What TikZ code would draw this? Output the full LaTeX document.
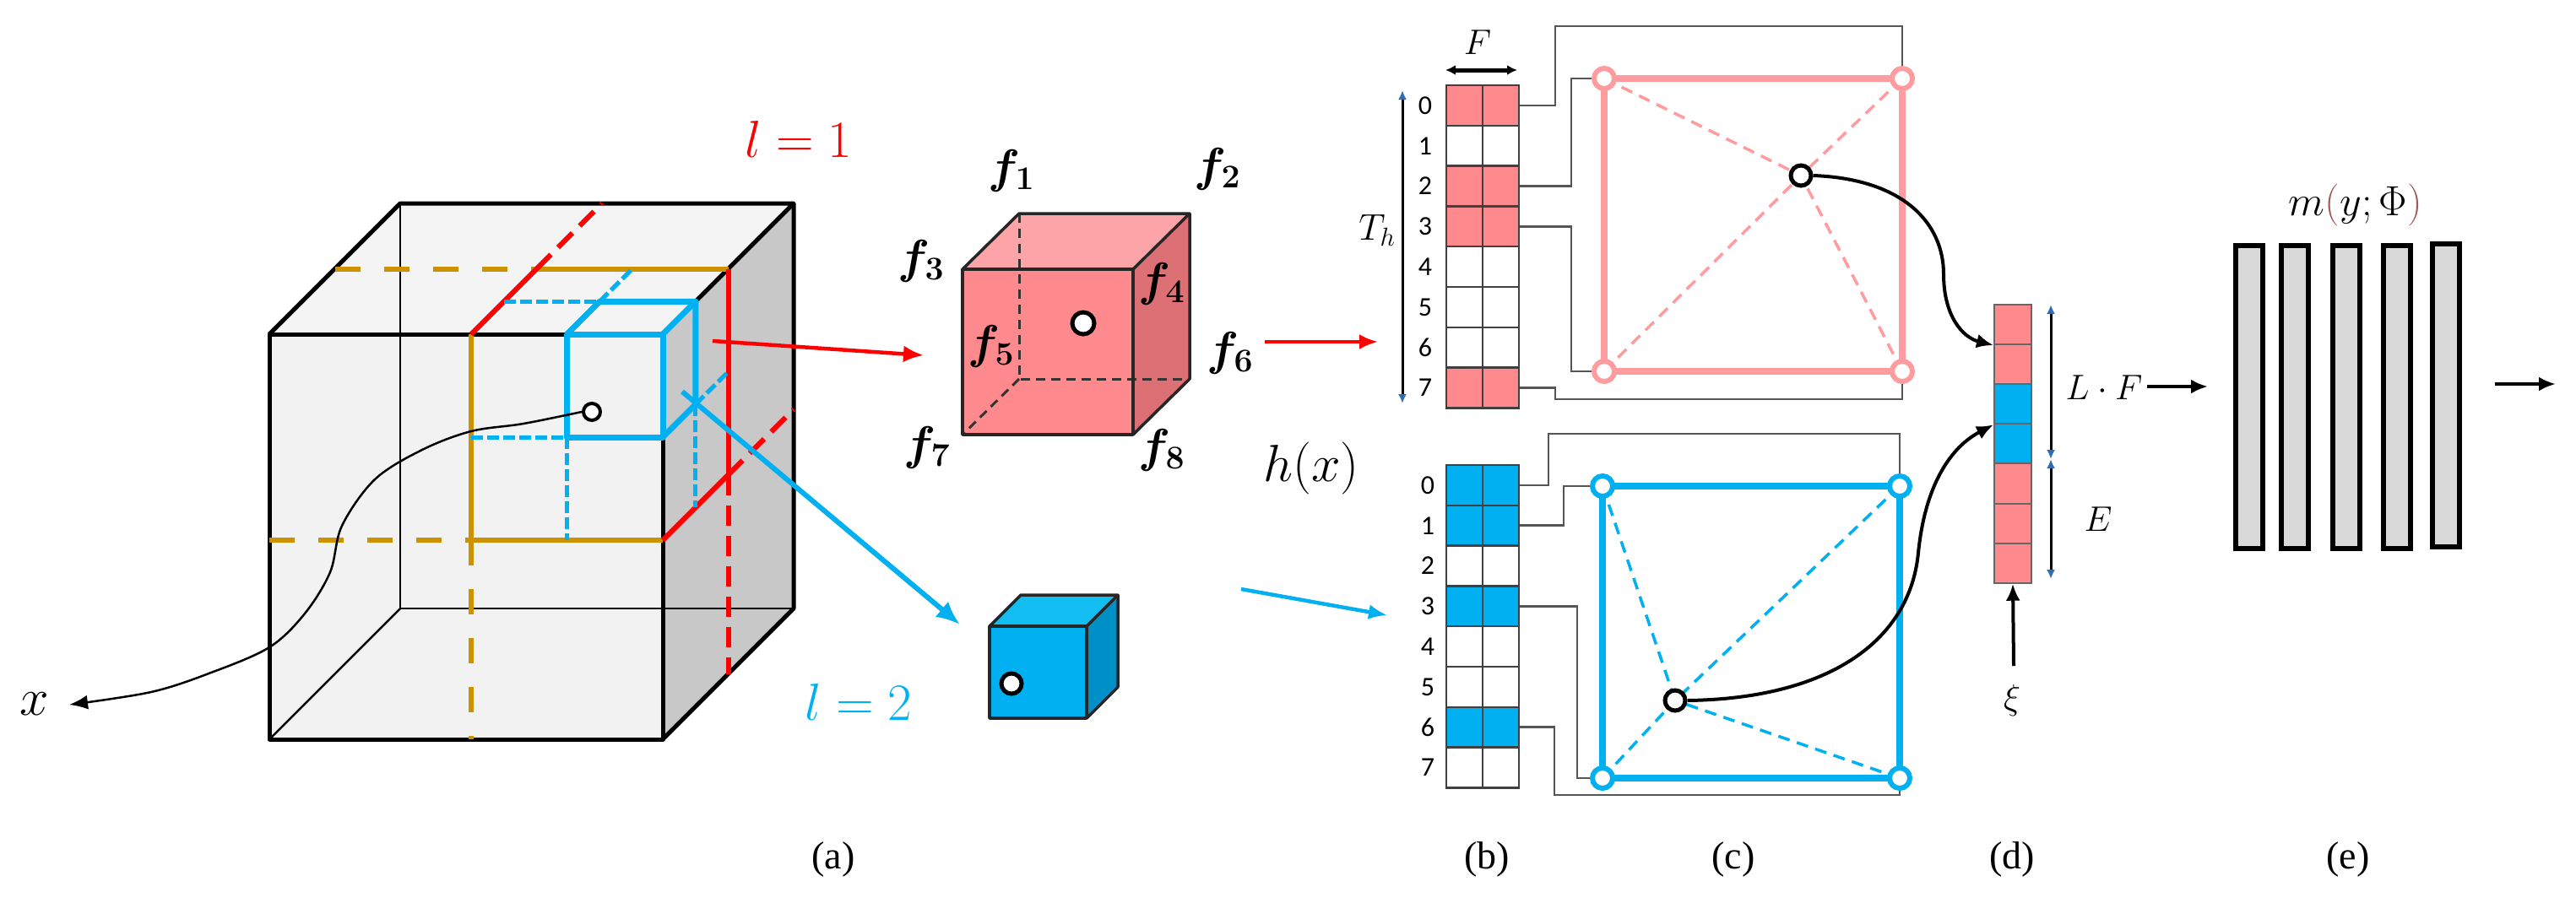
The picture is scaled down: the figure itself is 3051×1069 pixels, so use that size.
\RequirePackage{fix-cm}
\documentclass[tikz,border=0pt]{standalone}
\usepackage{amsmath,bm}
\usepackage[no-math]{fontspec}
\newfontfamily\calib{Carlito}
\newfontfamily\timesf{Liberation Serif}
\usetikzlibrary{arrows.meta}
\definecolor{gold}{HTML}{CC9200}
\definecolor{cyanb}{HTML}{00B0F0}
\definecolor{pinkf}{HTML}{FF8A8E}
\definecolor{pinkl}{HTML}{FF9CA0}
\definecolor{pinktop}{HTML}{FCA4A7}
\definecolor{pinkside}{HTML}{DC7074}
\definecolor{cyantop}{HTML}{12BDF2}
\definecolor{cyanside}{HTML}{0090C8}
\definecolor{facegray}{HTML}{F2F2F2}
\definecolor{topgray}{HTML}{F4F4F4}
\definecolor{sidegray}{HTML}{C8C8C8}
\definecolor{bargray}{HTML}{D9D9D9}
\definecolor{dimblue}{HTML}{2E6DB4}
\definecolor{brn}{HTML}{A05A5A}
\definecolor{conngray}{HTML}{555555}
\definecolor{cellline}{HTML}{404040}
\tikzset{
  edgethick/.style={line width=5pt, line join=round},
  edgethin/.style={line width=2.5pt},
  goldsolid/.style={gold, line width=6pt},
  golddash/.style={gold, line width=6pt, dash pattern=on 30pt off 28pt},
  redsolid/.style={red, line width=6pt},
  reddash/.style={red, line width=6pt, dash pattern=on 24pt off 12pt},
  bluesolid/.style={cyanb, line width=7pt, line join=round},
  bluedash/.style={cyanb, line width=5pt, dash pattern=on 14pt off 5pt},
  cpt/.style={circle, draw=black, fill=white, line width=5pt, minimum size=24pt, inner sep=0pt},
  cptsmall/.style={circle, draw=black, fill=white, line width=4pt, minimum size=20pt, inner sep=0pt},
  pnode/.style={circle, draw=pinkl, fill=white, line width=6pt, minimum size=24pt, inner sep=0pt},
  bnode/.style={circle, draw=cyanb, fill=white, line width=6pt, minimum size=24pt, inner sep=0pt},
  cell/.style={rectangle, draw=cellline, line width=2.5pt, minimum width=86pt, minimum height=47.8pt, inner sep=0pt},
  dcell/.style={rectangle, draw=black!60, line width=2pt, minimum width=44pt, minimum height=47.1pt, inner sep=0pt},
  bar/.style={rectangle, draw=black, fill=bargray, line width=6pt, minimum width=32pt, inner sep=0pt},
  conn/.style={draw=conngray, line width=2.5pt},
  rownum/.style={font=\calib\fontsize{32}{34}\selectfont, inner sep=0pt},
  mathbig/.style={font=\fontsize{62}{70}\selectfont, inner sep=0pt},
  flab/.style={font=\fontsize{56}{60}\selectfont, inner sep=0pt},
  mathmid/.style={font=\fontsize{42}{48}\selectfont, inner sep=0pt},
  sublab/.style={font=\timesf\fontsize{46}{50}\selectfont, inner sep=0pt},
  blackarr/.style={-{Latex[length=20pt,width=17pt]}, line width=4pt},
  dimarr/.style={{Latex[length=11pt,width=10pt,color=dimblue]}-{Latex[length=11pt,width=10pt,color=dimblue]}, line width=3pt},
}
\begin{document}
\begin{tikzpicture}[x=1pt,y=-1pt]
\useasboundingbox (0,0) rectangle (3051,1069);
\fill[white] (0,0) rectangle (3051,1069);

% ---------------- (a) big cube ----------------
\coordinate (FTL) at (319,396);
\coordinate (FTR) at (785,396);
\coordinate (FBR) at (785,876);
\coordinate (FBL) at (319,876);
\coordinate (BTL) at (474,241);
\coordinate (BTR) at (940,241);
\coordinate (BBR) at (940,721);
\coordinate (BBL) at (474,721);
\fill[facegray] (FTL) rectangle (FBR);
\fill[topgray] (FTL) -- (BTL) -- (BTR) -- (FTR) -- cycle;
\fill[sidegray] (FTR) -- (BTR) -- (BBR) -- (FBR) -- cycle;
\draw[edgethin] (BTL) -- (BBL) -- (BBR);
\draw[edgethin] (BBL) -- (FBL);
\draw[edgethick] (FTL) rectangle (FBR);
\draw[edgethick] (FTL) -- (BTL) -- (BTR) -- (FTR);
\draw[edgethick] (BTR) -- (BBR) -- (FBR);

% orange split lines
\draw[golddash] (396.5,318.5) -- (635.5,318.5);
\draw[goldsolid] (635.5,318.5) -- (862.5,318.5);
\draw[goldsolid] (558,396) -- (558,640);
\draw[golddash] (558,640) -- (558,876);
\draw[golddash] (319,640) -- (558,640);
\draw[goldsolid] (558,640) -- (785,640);

% red split lines (l = 1 cell)
\draw[redsolid] (558,396) -- (635.5,318.5);
\draw[reddash] (635.5,318.5) -- (713,241);
\draw[redsolid] (862.5,318.5) -- (862.5,562.5);
\draw[reddash] (862.5,562.5) -- (862.5,798.5);
\draw[redsolid] (785,640) -- (862.5,562.5);
\draw[reddash] (862.5,562.5) -- (940,485);

% blue cell (l = 2)
\draw[bluedash] (596.75,357.25) -- (710.25,357.25);
\draw[bluedash] (710.25,357.25) -- (749,318.5);
\draw[bluedash] (558,518) -- (671.5,518);
\draw[bluedash] (671.5,518) -- (671.5,640);
\draw[bluedash] (823.75,479.25) -- (823.75,601.25);
\draw[bluedash] (823.75,479.25) -- (862.5,440.5);
\draw[bluesolid] (671.5,396) -- (785,396) -- (785,518) -- (671.5,518) -- cycle;
\draw[bluesolid] (671.5,396) -- (710.25,357.25) -- (823.75,357.25) -- (785,396);
\draw[bluesolid] (823.75,357.25) -- (823.75,479.25) -- (785,518);

% point x and its label
\node[cptsmall] (ptx) at (701,488) {};
\node[mathbig] (xlab) at (41,834) {$x$};
\coordinate (xtip) at (82,835);
\draw[-{Latex[length=22pt,width=17pt]}, line width=2.5pt] plot[smooth, tension=0.55] coordinates {(ptx.west) (620,502) (558,511) (500,533) (444,568) (405,623) (391,678) (361,727) (319,767) (250,797) (179,820) (xtip)};

% level labels
\node[mathbig, text=red] (l1) at (946,165) {$l=1$};
\node[mathbig, text=cyanb] (l2) at (1017,832) {$l=2$};

% arrows to the cells
\coordinate (redstart) at (844,404);
\coordinate (redend) at (1094,421);
\draw[red, line width=4.5pt, -{Latex[length=24pt,width=20pt]}] (redstart) -- (redend);
\coordinate (bluestart) at (808,464);
\coordinate (blueend) at (1137,740);
\draw[cyanb, line width=6pt, -{Latex[length=28pt,width=24pt]}] (bluestart) -- (blueend);

% ---------------- red cube ----------------
\fill[pinkf] (1140,319) rectangle (1342,515);
\fill[pinktop] (1140,319) -- (1207,253) -- (1409,253) -- (1342,319) -- cycle;
\fill[pinkside] (1342,319) -- (1409,253) -- (1409,449) -- (1342,515) -- cycle;
\draw[black!80, line width=3pt, dash pattern=on 11pt off 7pt] (1207,253) -- (1207,449) -- (1409,449);
\draw[black!80, line width=3pt, dash pattern=on 11pt off 7pt] (1207,449) -- (1140,515);
\draw[black!85, line width=3.5pt, line join=round] (1140,319) rectangle (1342,515);
\draw[black!85, line width=3.5pt, line join=round] (1140,319) -- (1207,253) -- (1409,253) -- (1342,319);
\draw[black!85, line width=3.5pt, line join=round] (1409,253) -- (1409,449) -- (1342,515);
\node[cpt, minimum size=26pt] (redpt) at (1283,383) {};
\node[flab] (f1) at (1198,202) {$\boldsymbol{f}_{\boldsymbol{1}}$};
\node[flab] (f2) at (1442,200) {$\boldsymbol{f}_{\boldsymbol{2}}$};
\node[flab] (f3) at (1091,309) {$\boldsymbol{f}_{\boldsymbol{3}}$};
\node[flab] (f4) at (1376,336) {$\boldsymbol{f}_{\boldsymbol{4}}$};
\node[flab] (f5) at (1174,410) {$\boldsymbol{f}_{\boldsymbol{5}}$};
\node[flab] (f6) at (1457,418) {$\boldsymbol{f}_{\boldsymbol{6}}$};
\node[flab] (f7) at (1098,530) {$\boldsymbol{f}_{\boldsymbol{7}}$};
\node[flab] (f8) at (1376,533) {$\boldsymbol{f}_{\boldsymbol{8}}$};
\node[mathbig] (hx) at (1553,555) {$h(x)$};

% ---------------- blue cube ----------------
\fill[cyanb] (1172,742) rectangle (1287,851);
\fill[cyantop] (1172,742) -- (1209,705) -- (1324,705) -- (1287,742) -- cycle;
\fill[cyanside] (1287,742) -- (1324,705) -- (1324,814) -- (1287,851) -- cycle;
\draw[black!85, line width=3.5pt, line join=round] (1172,742) rectangle (1287,851);
\draw[black!85, line width=3.5pt, line join=round] (1172,742) -- (1209,705) -- (1324,705) -- (1287,742);
\draw[black!85, line width=3.5pt, line join=round] (1324,705) -- (1324,814) -- (1287,851);
\node[cpt, minimum size=24pt] (bluept) at (1198,810) {};

% arrows into hash tables
\coordinate (rtA) at (1498,405);
\coordinate (rtB) at (1632,405);
\draw[red, line width=4pt, -{Latex[length=22pt,width=18pt]}] (rtA) -- (rtB);
\coordinate (btA) at (1470,698);
\coordinate (btB) at (1643,729);
\draw[cyanb, line width=4.5pt, -{Latex[length=22pt,width=18pt]}] (btA) -- (btB);

% ---------------- (b) hash tables ----------------
\foreach \i/\c in {0/pinkf,1/white,2/pinkf,3/pinkf,4/white,5/white,6/white,7/pinkf} {
  \node[cell, fill=\c] (R\i) at (1756,{124.9+47.8*\i}) {};
  \node[rownum] (RN\i) at (1688,{124.9+47.8*\i}) {\i};
}
\draw[cellline, line width=2.5pt] (R0.north) -- (R7.south);
\foreach \i/\c in {0/cyanb,1/cyanb,2/white,3/cyanb,4/white,5/white,6/cyanb,7/white} {
  \node[cell, fill=\c] (B\i) at (1756,{574.9+47.8*\i}) {};
  \node[rownum] (BN\i) at (1691,{574.9+47.8*\i}) {\i};
}
\draw[cellline, line width=2.5pt] (B0.north) -- (B7.south);

\coordinate (thA) at (1661,107);
\coordinate (thB) at (1661,478);
\draw[dimarr] (thA) -- (thB);
\node[mathmid, font=\fontsize{44}{48}\selectfont] (Th) at (1631,273) {$T_h$};
\coordinate (fA) at (1712,83);
\coordinate (fB) at (1797,83);
\draw[{Latex[length=12pt,width=12pt]}-{Latex[length=12pt,width=12pt]}, line width=5pt] (fA) -- (fB);
\node[mathmid] (Flab) at (1750,50) {$F$};

% ---------------- (c) red square ----------------
\coordinate (rtl) at (1900,93);
\coordinate (rtr) at (2253,93);
\coordinate (rbl) at (1900,440);
\coordinate (rbr) at (2253,440);
\coordinate (rc) at (2133,208);
\draw[pinkl, line width=8pt] (rtl) -- (rtr) -- (rbr) -- (rbl) -- cycle;
\foreach \p in {rtl,rtr,rbl,rbr} \draw[pinkl, line width=3.5pt, dash pattern=on 14pt off 9pt] (\p) -- (rc);
\node[pnode] (rTL) at (rtl) {};
\node[pnode] (rTR) at (rtr) {};
\node[pnode] (rBL) at (rbl) {};
\node[pnode] (rBR) at (rbr) {};
\node[cpt] (rC) at (rc) {};
\draw[conn] (R0.east) -| (1842,31) -| (rTR.north);
\draw[conn] (R2.east) -| (1861,93) -- (rTL.west);
\draw[conn] (R3.east) -| (1861,440) -- (rBL.west);
\draw[conn] (R7.east) -| (1842,473) -| (rBR.south);

% ---------------- (c) blue square ----------------
\coordinate (btl) at (1898,576);
\coordinate (btr) at (2250,576);
\coordinate (bbl) at (1898,922);
\coordinate (bbr) at (2250,922);
\coordinate (bc) at (1984,830);
\draw[cyanb, line width=8pt] (btl) -- (btr) -- (bbr) -- (bbl) -- cycle;
\foreach \p in {btl,btr,bbl,bbr} \draw[cyanb, line width=3.5pt, dash pattern=on 14pt off 9pt] (\p) -- (bc);
\node[bnode] (bTL) at (btl) {};
\node[bnode] (bTR) at (btr) {};
\node[bnode] (bBL) at (bbl) {};
\node[bnode] (bBR) at (bbr) {};
\node[cpt] (bC) at (bc) {};
\draw[conn] (B0.east) -| (1834,514) -| (bTR.north);
\draw[conn] (B1.east) -| (1852,576) -- (bTL.west);
\draw[conn] (B3.east) -| (1868,922) -- (bBL.west);
\draw[conn] (B6.east) -| (1841,942) -| (bBR.south);

% ---------------- (d) feature vector ----------------
\foreach \i/\c in {1/pinkf,2/pinkf,3/cyanb,4/cyanb,5/pinkf,6/pinkf,7/pinkf} {
  \node[dcell, fill=\c] (D\i) at (2384,{361+47.1*(\i-0.5)}) {};
}
\draw[blackarr] (rC.east) .. controls (2255,212) and (2302,265) .. (2302,325) .. controls (2302,375) and (2325,400) .. (D1.south west);
\draw[blackarr] (bC.east) .. controls (2165,828) and (2262,760) .. (2272,655) .. controls (2280,575) and (2310,530) .. (D3.south west);
\coordinate (dimT) at (2429,361);
\coordinate (dimM) at (2429,544);
\coordinate (dimB) at (2429,686);
\draw[dimarr] (dimT) -- (dimM);
\draw[dimarr] (dimM) -- (dimB);
\node[mathmid] (LF) at (2492,459) {$L\cdot F$};
\node[mathmid] (Elab) at (2485,615) {$E$};
\node[mathmid] (xi) at (2383,830) {$\xi$};
\draw[blackarr] (2385,789) -- (D7.south);

% ---------------- (e) network ----------------
\node[bar, minimum height=359pt] (E1) at (2664,470) {};
\node[bar, minimum height=359pt] (E2) at (2718,470) {};
\node[bar, minimum height=359pt] (E3) at (2779,470) {};
\node[bar, minimum height=359pt] (E4) at (2839,470) {};
\node[bar, minimum height=359pt] (E5) at (2897,468) {};
\coordinate (lfA) at (2543,458);
\draw[blackarr] (lfA) -- (2615,458);
\coordinate (outA) at (2955,455);
\coordinate (outB) at (3027,455);
\draw[blackarr] (outA) -- (outB);
\node[mathmid, font=\fontsize{50}{54}\selectfont] (mlab) at (2790,243) {$m{\color{brn}(}y;\Phi{\color{brn})}$};

% ---------------- sub-figure labels ----------------
\node[sublab] (la) at (987,1018) {(a)};
\node[sublab] (lb) at (1761,1018) {(b)};
\node[sublab] (lc) at (2053,1018) {(c)};
\node[sublab] (ld) at (2383,1018) {(d)};
\node[sublab] (le) at (2781,1018) {(e)};
\end{tikzpicture}
\end{document}
